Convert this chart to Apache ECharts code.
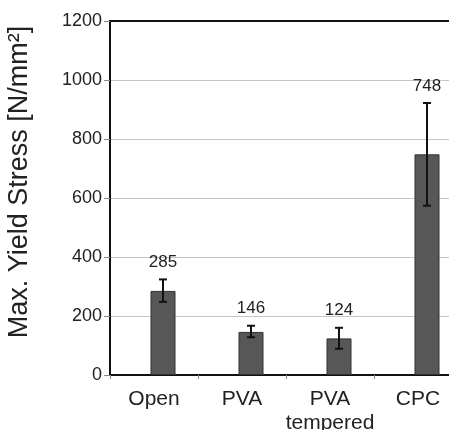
<!DOCTYPE html>
<html>
<head>
<meta charset="utf-8">
<script src="https://cdn.jsdelivr.net/npm/echarts@6/dist/echarts.min.js"></script>
<style>html,body{margin:0;padding:0;background:#fff;}#c{width:449px;height:430px;}</style>
</head>
<body>
<div id="c"></div>
<script>
var categories = ['Open', 'PVA', 'PVA\ntempered', 'CPC'];
var yieldStress = [285, 146, 124, 748];
var errUpper = [324, 167, 160, 922];
var errLower = [248, 128, 89, 574];
var yTicks = [0, 200, 400, 600, 800, 1000, 1200];

var FONT = "'Liberation Sans', Arial, sans-serif";
var chart = echarts.init(document.getElementById('c'), null, {renderer: 'canvas'});

var errData = categories.map(function (c, i) { return [i, errUpper[i], errLower[i], yieldStress[i]]; });

function renderErr(params, api) {
  var x = api.value(0), hi = api.value(1), lo = api.value(2), v = api.value(3);
  var t = api.coord([x, hi]), b = api.coord([x, lo]);
  var hw = 4, st = {stroke: '#111', lineWidth: 2};
  return {type: 'group', children: [
    {type: 'line', shape: {x1: t[0], y1: t[1], x2: b[0], y2: b[1]}, style: st},
    {type: 'line', shape: {x1: t[0] - hw, y1: t[1], x2: t[0] + hw, y2: t[1]}, style: st},
    {type: 'line', shape: {x1: b[0] - hw, y1: b[1], x2: b[0] + hw, y2: b[1]}, style: st},
    {type: 'text', x: t[0], y: t[1] - 17, style: {text: String(v), fill: '#222', font: '17px ' + FONT, textAlign: 'center', textVerticalAlign: 'middle'}}
  ]};
}

chart.setOption({
  animation: false,
  grid: [
    {left: 110, right: -13, top: 21, bottom: 55, containLabel: false, outerBoundsMode: 'none'},
    {left: 119, right: -22, top: 21, bottom: 55, containLabel: false, outerBoundsMode: 'none'}
  ],
  xAxis: [
    {type: 'category', gridIndex: 0, data: categories, position: 'bottom',
     axisLine: {lineStyle: {color: '#111', width: 2}},
     axisTick: {show: true, length: 4, lineStyle: {color: '#888'}},
     axisLabel: {interval: 0, color: '#222', fontSize: 21, fontFamily: FONT, margin: 12, lineHeight: 24, hideOverlap: false}},
    {type: 'category', gridIndex: 0, data: categories, position: 'top',
     axisLine: {lineStyle: {color: '#111', width: 2}}, axisTick: {show: false}, axisLabel: {show: false}},
    {type: 'category', gridIndex: 1, data: categories, show: false}
  ],
  yAxis: [
    {type: 'value', gridIndex: 0, min: 0, max: 1200, interval: 200,
     name: 'Max. Yield Stress [N/mm²]', nameLocation: 'middle', nameGap: 77,
     nameTextStyle: {color: '#222', fontSize: 27, fontFamily: FONT, padding: [0, 0, 0, 32]},
     axisLine: {show: true, lineStyle: {color: '#111', width: 2}},
     axisTick: {show: true, length: 6, lineStyle: {color: '#888'}},
     axisLabel: {color: '#222', fontSize: 18, fontFamily: FONT, margin: 8,
                 formatter: function (v) { return yTicks.indexOf(v) >= 0 ? String(v) : ''; }},
     splitLine: {lineStyle: {color: '#c4c4c4', width: 1}}},
    {type: 'value', gridIndex: 1, min: 0, max: 1200, interval: 200, show: false, splitLine: {show: false}}
  ],
  series: [
    {type: 'bar', xAxisIndex: 2, yAxisIndex: 1, data: yieldStress, barWidth: 25,
     itemStyle: {color: '#575757', borderColor: '#333', borderWidth: 1}},
    {type: 'custom', xAxisIndex: 2, yAxisIndex: 1, data: errData, renderItem: renderErr, z: 5}
  ]
});
</script>
</body>
</html>
